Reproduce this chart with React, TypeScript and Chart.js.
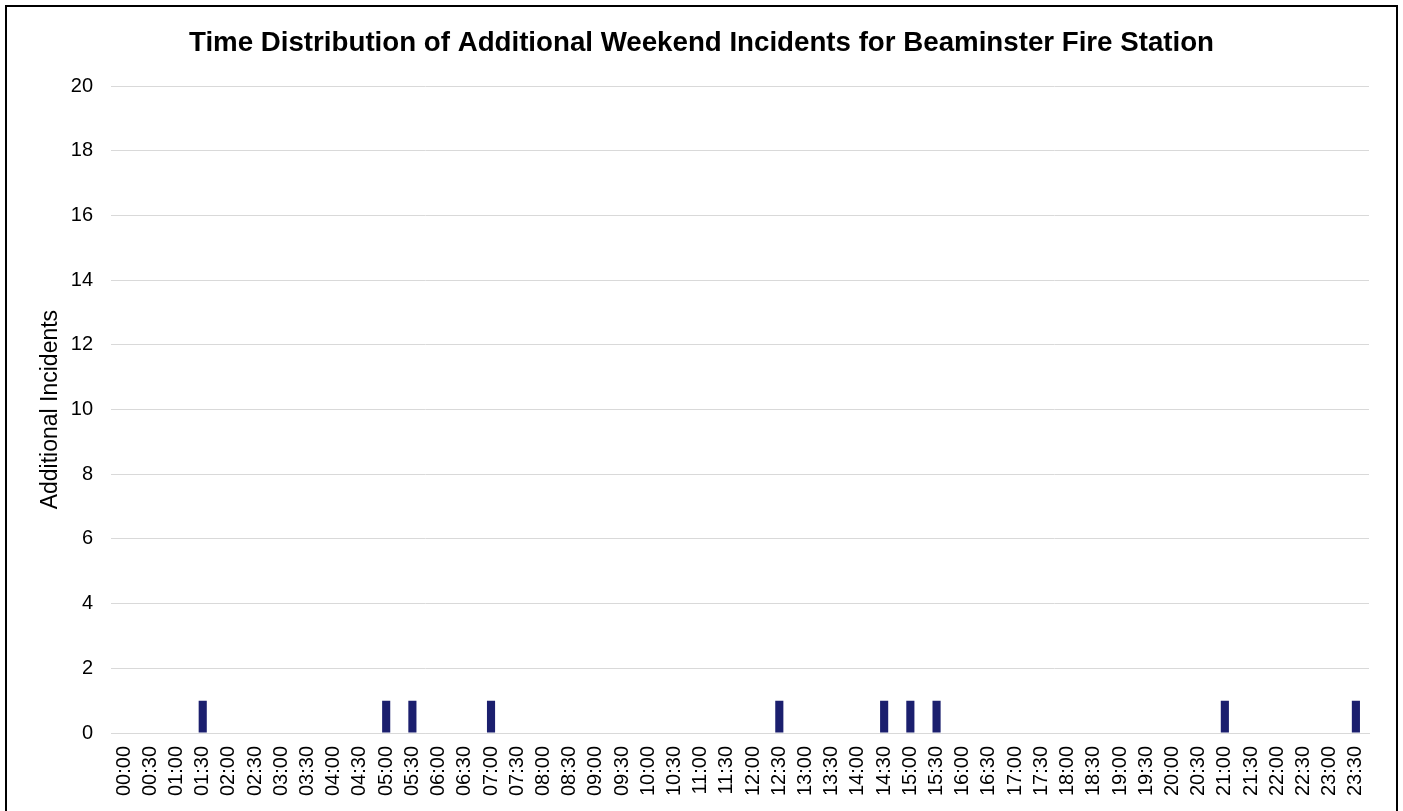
import React, { useEffect, useRef } from "react";
import { Chart, registerables } from "chart.js";

Chart.register(...registerables);

const timeLabels: string[] = [
  "00:00", "00:30", "01:00", "01:30", "02:00", "02:30", "03:00", "03:30",
  "04:00", "04:30", "05:00", "05:30", "06:00", "06:30", "07:00", "07:30",
  "08:00", "08:30", "09:00", "09:30", "10:00", "10:30", "11:00", "11:30",
  "12:00", "12:30", "13:00", "13:30", "14:00", "14:30", "15:00", "15:30",
  "16:00", "16:30", "17:00", "17:30", "18:00", "18:30", "19:00", "19:30",
  "20:00", "20:30", "21:00", "21:30", "22:00", "22:30", "23:00", "23:30",
];

const additionalIncidents: number[] = [
  0, 0, 0, 1, 0, 0, 0, 0,
  0, 0, 1, 1, 0, 0, 1, 0,
  0, 0, 0, 0, 0, 0, 0, 0,
  0, 1, 0, 0, 0, 1, 1, 1,
  0, 0, 0, 0, 0, 0, 0, 0,
  0, 0, 1, 0, 0, 0, 0, 1,
];

const chartTitle = "Time Distribution of Additional Weekend Incidents for Beaminster Fire Station";
const yAxisTitle = "Additional Incidents";

export default function App() {
  const canvasRef = useRef<HTMLCanvasElement | null>(null);

  useEffect(() => {
    if (!canvasRef.current) return;
    const font = "'Liberation Sans', Arial, sans-serif";
    const chart = new Chart(canvasRef.current, {
      type: "bar",
      data: {
        labels: timeLabels,
        datasets: [
          {
            label: yAxisTitle,
            data: additionalIncidents,
            backgroundColor: "#1b1f6e",
            borderWidth: 0,
            barPercentage: 0.31,
            categoryPercentage: 1,
            yAxisID: "y",
          },
        ],
      },
      options: {
        animation: false,
        responsive: false,
        maintainAspectRatio: false,
        layout: { padding: 0 },
        plugins: {
          legend: { display: false },
          tooltip: { enabled: false },
          title: {
            display: true,
            text: chartTitle,
            color: "#000",
            font: { family: font, size: 27.7, weight: "bold" },
            padding: { top: 20, bottom: 26 },
          },
        },
        scales: {
          x: {
            grid: { display: false, drawTicks: false },
            border: { display: true, color: "#d9d9d9", width: 1 },
            ticks: {
              color: "#000",
              font: { family: font, size: 20 },
              minRotation: 90,
              maxRotation: 90,
              autoSkip: false,
              padding: 13,
            },
            afterFit: (scale: any) => {
              scale.height = 74;
            },
          },
          y: {
            min: 0,
            max: 20,
            grid: { color: "#d9d9d9", drawTicks: false },
            border: { display: false },
            ticks: {
              stepSize: 2,
              color: "#000",
              font: { family: font, size: 20 },
              padding: 18,
            },
            title: {
              display: true,
              text: yAxisTitle,
              color: "#000",
              font: { family: font, size: 23 },
              padding: { top: 30, bottom: 0 },
            },
            afterFit: (scale: any) => {
              scale.width = 104;
            },
          },
          yRight: {
            position: "right",
            min: 0,
            max: 20,
            grid: { display: false, drawTicks: false },
            border: { display: false },
            ticks: { display: false },
            afterFit: (scale: any) => {
              scale.width = 27;
            },
          },
        },
      },
    });
    return () => chart.destroy();
  }, []);

  return (
    <div
      style={{
        position: "fixed",
        left: 5,
        top: 5,
        width: 1389,
        height: 840,
        border: "2px solid #000",
        background: "#fff",
        overflow: "hidden",
      }}
    >
      <canvas ref={canvasRef} width={1389} height={800} style={{ display: "block" }} />
    </div>
  );
}
